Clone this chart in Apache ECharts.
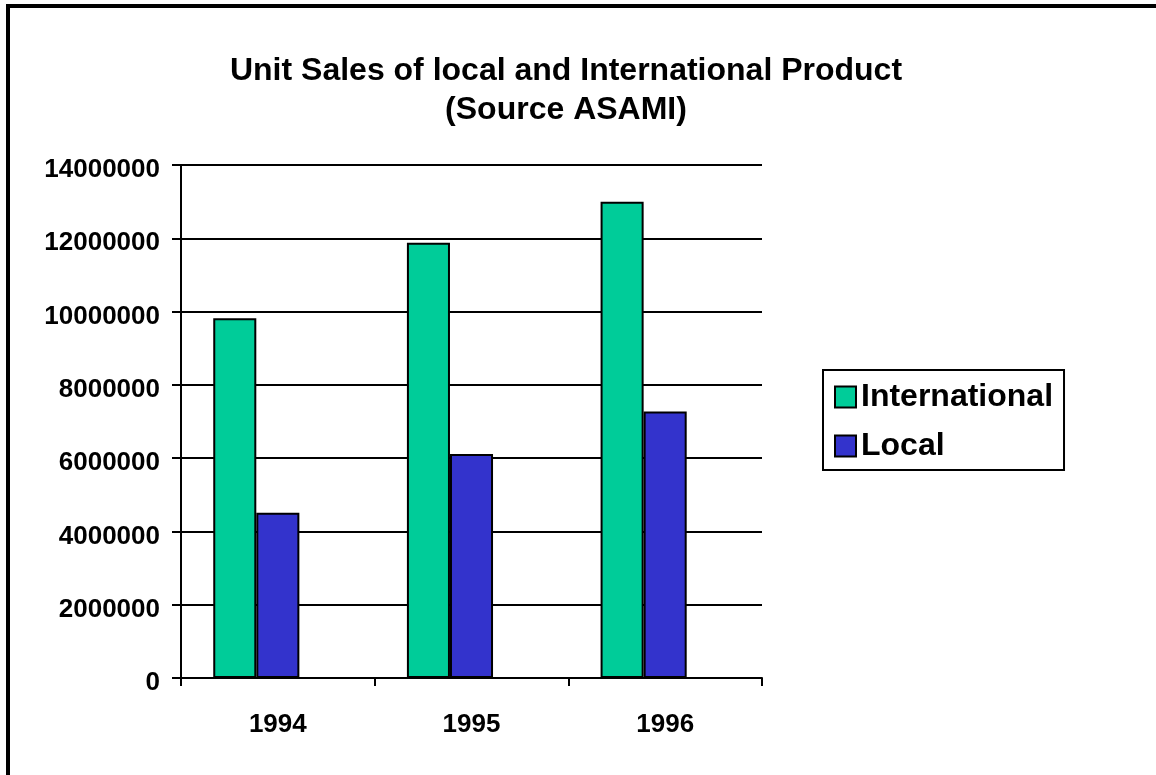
<!DOCTYPE html>
<html>
<head>
<meta charset="utf-8">
<script src="https://cdn.jsdelivr.net/npm/echarts@6/dist/echarts.min.js"></script>
<style>
  html, body { margin: 0; padding: 0; background: #fff; }
  #frame {
    position: absolute; left: 6px; top: 4px; right: -10px; bottom: -10px;
    border-left: 4px solid #000; border-top: 4px solid #000;
  }
  #chart { position: absolute; left: 0; top: 0; width: 1156px; height: 775px; }
</style>
</head>
<body>
<div id="frame"></div>
<div id="chart"></div>
<script>
const years = ['1994', '1995', '1996']
const international = [9820000, 11880000, 13000000]
const local = [4510000, 6110000, 7270000]
// the source chart keeps room for a third, empty series
const empty = [null, null, null]
const yTicks = { min: 0, max: 14000000, step: 2000000 }

const font = '"Liberation Sans", Arial, sans-serif'
const barBorder = { borderColor: '#000', borderWidth: 2 }

const chart = echarts.init(document.getElementById('chart'))
chart.setOption({
  animation: false,
  backgroundColor: 'transparent',
  title: {
    text: 'Unit Sales of local and International Product\n(Source ASAMI)',
    left: 566,
    top: 52,
    padding: 0,
    textAlign: 'center',
    textStyle: {
      fontFamily: font,
      fontWeight: 'bold',
      fontSize: 32,
      lineHeight: 39,
      color: '#000'
    }
  },
  legend: {
    data: ['International', 'Local'],
    orient: 'vertical',
    left: 823,
    top: 370,
    padding: [11, 11, 8, 11],
    itemGap: 17,
    itemWidth: 21,
    itemHeight: 21,
    icon: 'rect',
    borderColor: '#000',
    borderWidth: 2,
    itemStyle: { borderColor: '#000', borderWidth: 2 },
    textStyle: {
      fontFamily: font,
      fontWeight: 'bold',
      fontSize: 32,
      lineHeight: 31,
      color: '#000'
    }
  },
  grid: { left: 181, right: 394, top: 165, bottom: 97, containLabel: false },
  xAxis: {
    type: 'category',
    data: years,
    axisLine: { lineStyle: { color: '#000', width: 2 } },
    axisTick: { show: true, length: 8, lineStyle: { color: '#000', width: 2 } },
    axisLabel: {
      margin: 34,
      fontFamily: font,
      fontWeight: 'bold',
      fontSize: 26,
      color: '#000'
    }
  },
  yAxis: {
    type: 'value',
    min: yTicks.min,
    max: yTicks.max,
    interval: yTicks.step,
    axisLine: { show: true, lineStyle: { color: '#000', width: 2 } },
    axisTick: { show: true, length: 9, lineStyle: { color: '#000', width: 2 } },
    splitLine: { lineStyle: { color: '#000', width: 2 } },
    axisLabel: {
      margin: 21,
      color: '#000',
      formatter: v => '{n|' + v + '}',
      rich: {
        n: {
          fontFamily: font,
          fontWeight: 'bold',
          fontSize: 26,
          color: '#000',
          padding: [10, 0, 0, 0]
        }
      }
    }
  },
  series: [{
    name: 'International',
    type: 'bar',
    data: international,
    barGap: '0%',
    barCategoryGap: '33.3%',
    itemStyle: Object.assign({ color: '#00CC99' }, barBorder)
  }, {
    name: 'Local',
    type: 'bar',
    data: local,
    itemStyle: Object.assign({ color: '#3333CC' }, barBorder)
  }, {
    name: 'Empty',
    type: 'bar',
    data: empty,
    itemStyle: Object.assign({ color: '#993366' }, barBorder)
  }]
})
</script>
</body>
</html>
